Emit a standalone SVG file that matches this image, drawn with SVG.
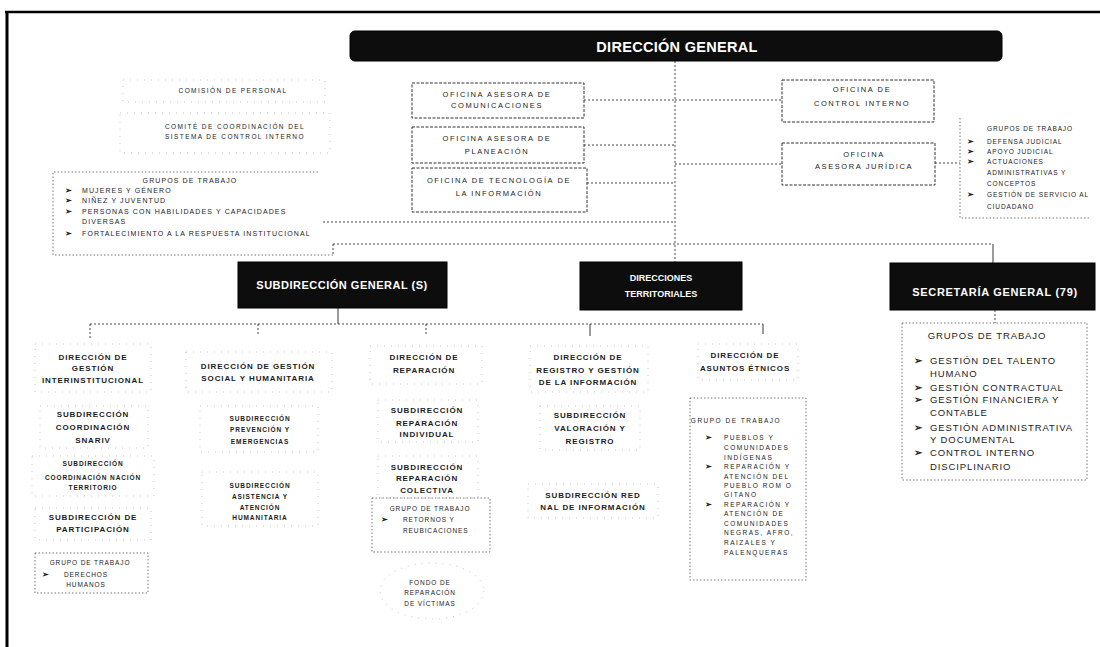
<svg xmlns="http://www.w3.org/2000/svg" width="1100" height="647" viewBox="0 0 1100 647">
<style>
  text { font-family: "Liberation Sans", Arial, sans-serif; fill: #1c1c1c; }
  .h { font-size: 8px; font-weight: bold; letter-spacing: 0.9px; text-anchor: middle; }
  .o { font-size: 7.5px; letter-spacing: 1.6px; text-anchor: middle; }
  .t { font-size: 6.5px; letter-spacing: 1.4px; text-anchor: middle; }
  .s { font-size: 6.5px; letter-spacing: 0.9px; }
  .s2 { font-size: 7px; letter-spacing: 1.1px; }
  .sm { font-size: 6.5px; letter-spacing: 0.9px; text-anchor: middle; }
  .e { font-size: 6.5px; letter-spacing: 1.5px; }
  .sg { font-size: 9.5px; letter-spacing: 0.9px; }
  .b { font-size: 8px; font-weight: bold; }
  .w { fill: #ffffff; font-weight: bold; text-anchor: middle; }
  .blk { fill: #0d0d0d; stroke: #000; stroke-width: 1; }
  .obox { fill: none; stroke: #333; stroke-width: 1; stroke-dasharray: 3 1.5; }
  .faint { fill: none; stroke: #aaa; stroke-width: 0.7; stroke-dasharray: 1 6; }
  .gbox { fill: none; stroke: #555; stroke-width: 0.8; stroke-dasharray: 1.5 2; }
  .conn line, .conn path { fill: none; stroke: #333; stroke-width: 0.9; stroke-dasharray: 2 2; }
  .conn .solid { stroke-dasharray: none; stroke: #222; }
</style>

<!-- frame -->
<g id="frame">
  <line x1="5" y1="12" x2="1100" y2="12" stroke="#000" stroke-width="2.5"/>
  <line x1="7" y1="11" x2="7" y2="647" stroke="#000" stroke-width="3"/>
</g>

<!-- connectors -->
<g id="connectors" class="conn">
  <line x1="675" y1="61" x2="675" y2="262"/>
  <line x1="584" y1="100" x2="675" y2="100"/>
  <line x1="584" y1="145" x2="675" y2="145"/>
  <line x1="587" y1="183" x2="675" y2="183"/>
  <line x1="675" y1="100" x2="782" y2="100"/>
  <line x1="675" y1="164" x2="782" y2="164"/>
  <line x1="935" y1="163" x2="960" y2="163"/>
  <line x1="323" y1="222" x2="675" y2="222"/>
  <line x1="333" y1="244" x2="993" y2="244"/>
  <line x1="333" y1="244" x2="333" y2="256"/>
  <line class="solid" x1="993" y1="244" x2="993" y2="263"/>
  <line x1="995" y1="310" x2="995" y2="323"/>
  <line class="solid" x1="338" y1="308" x2="338" y2="324"/>
  <line x1="90" y1="324" x2="763" y2="324"/>
  <line x1="90" y1="324" x2="90" y2="340"/>
  <line x1="258" y1="324" x2="258" y2="336"/>
  <line x1="426" y1="324" x2="426" y2="336"/>
  <line class="solid" x1="590" y1="324" x2="590" y2="336"/>
  <line class="solid" x1="763" y1="324" x2="763" y2="334"/>
</g>

<!-- Dirección General -->
<g id="direccion-general">
  <rect class="blk" x="350" y="31" width="652" height="30" rx="5"/>
  <text class="w" x="677" y="52" font-size="14.5" letter-spacing="0.3">DIRECCIÓN GENERAL</text>
</g>

<!-- left top -->
<g id="comision-personal">
  <rect class="faint" x="123" y="80" width="202" height="22"/>
  <text class="t" x="233" y="93">COMISIÓN DE PERSONAL</text>
</g>
<g id="comite-coordinacion">
  <rect class="faint" x="120" y="113" width="210" height="40"/>
  <text class="t" x="235" y="129">COMITÉ DE COORDINACIÓN DEL</text>
  <text class="t" x="235" y="139">SISTEMA DE CONTROL INTERNO</text>
</g>
<g id="grupos-dg">
  <path class="gbox" d="M318 172 H53 V255 H333"/>
  <text class="s2" x="190" y="183" text-anchor="middle">GRUPOS DE TRABAJO</text>
  <text class="b" x="65" y="193">➢</text><text class="s2" x="82" y="193">MUJERES Y GÉNERO</text>
  <text class="b" x="65" y="203">➢</text><text class="s2" x="82" y="203">NIÑEZ Y JUVENTUD</text>
  <text class="b" x="65" y="214">➢</text><text class="s2" x="82" y="214">PERSONAS CON HABILIDADES Y CAPACIDADES</text>
  <text class="s2" x="82" y="224">DIVERSAS</text>
  <text class="b" x="65" y="236">➢</text><text class="s2" x="82" y="236">FORTALECIMIENTO A LA RESPUESTA INSTITUCIONAL</text>
</g>

<!-- center offices -->
<g id="oficina-comunicaciones">
  <rect class="obox" x="412" y="83" width="172" height="35"/>
  <text class="o" x="497" y="97">OFICINA ASESORA DE</text>
  <text class="o" x="497" y="108">COMUNICACIONES</text>
</g>
<g id="oficina-planeacion">
  <rect class="obox" x="412" y="127" width="172" height="36"/>
  <text class="o" x="497" y="141">OFICINA ASESORA DE</text>
  <text class="o" x="497" y="154">PLANEACIÓN</text>
</g>
<g id="oficina-tecnologia">
  <rect class="obox" x="412" y="168" width="175" height="44"/>
  <text class="o" x="499" y="183">OFICINA DE TECNOLOGÍA DE</text>
  <text class="o" x="499" y="196">LA INFORMACIÓN</text>
</g>

<!-- right offices -->
<g id="oficina-control-interno">
  <rect class="obox" x="782" y="80" width="152" height="42"/>
  <text class="o" x="862" y="92">OFICINA DE</text>
  <text class="o" x="862" y="106">CONTROL INTERNO</text>
</g>
<g id="oficina-juridica">
  <rect class="obox" x="782" y="143" width="153" height="42"/>
  <text class="o" x="864" y="157">OFICINA</text>
  <text class="o" x="864" y="169">ASESORA JURÍDICA</text>
</g>
<g id="grupos-juridica">
  <path class="gbox" d="M960 118 V218 H1090"/>
  <text class="s" x="987" y="131">GRUPOS DE TRABAJO</text>
  <text class="b" x="967" y="144">➢</text><text class="s" x="987" y="144">DEFENSA JUDICIAL</text>
  <text class="b" x="967" y="154">➢</text><text class="s" x="987" y="154">APOYO JUDICIAL</text>
  <text class="b" x="967" y="164">➢</text><text class="s" x="987" y="164">ACTUACIONES</text>
  <text class="s" x="987" y="175">ADMINISTRATIVAS Y</text>
  <text class="s" x="987" y="186">CONCEPTOS</text>
  <text class="b" x="967" y="197">➢</text><text class="s" x="987" y="197">GESTIÓN DE SERVICIO AL</text>
  <text class="s" x="987" y="209">CIUDADANO</text>
</g>

<!-- second level -->
<g id="subdireccion-general">
  <rect class="blk" x="238" y="262" width="209" height="46"/>
  <text class="w" x="342" y="289" font-size="11" letter-spacing="0.5">SUBDIRECCIÓN GENERAL (S)</text>
</g>
<g id="direcciones-territoriales">
  <rect class="blk" x="580" y="262" width="162" height="48"/>
  <text class="w" x="661" y="281" font-size="9">DIRECCIONES</text>
  <text class="w" x="661" y="297" font-size="9">TERRITORIALES</text>
</g>
<g id="secretaria-general">
  <rect class="blk" x="890" y="263" width="205" height="47"/>
  <text class="w" x="995" y="296" font-size="11" letter-spacing="0.7">SECRETARÍA GENERAL (79)</text>
</g>
<g id="grupos-secretaria">
  <rect class="gbox" x="902" y="323" width="185" height="157"/>
  <text class="sg" x="987" y="339" text-anchor="middle">GRUPOS DE TRABAJO</text>
  <text class="sg" x="914" y="364" font-weight="bold">➢</text><text class="sg" x="930" y="364">GESTIÓN DEL TALENTO</text>
  <text class="sg" x="930" y="377">HUMANO</text>
  <text class="sg" x="914" y="391" font-weight="bold">➢</text><text class="sg" x="930" y="391">GESTIÓN CONTRACTUAL</text>
  <text class="sg" x="914" y="403" font-weight="bold">➢</text><text class="sg" x="930" y="403">GESTIÓN FINANCIERA Y</text>
  <text class="sg" x="930" y="416">CONTABLE</text>
  <text class="sg" x="914" y="431" font-weight="bold">➢</text><text class="sg" x="930" y="431">GESTIÓN ADMINISTRATIVA</text>
  <text class="sg" x="930" y="443">Y DOCUMENTAL</text>
  <text class="sg" x="914" y="456" font-weight="bold">➢</text><text class="sg" x="930" y="456">CONTROL INTERNO</text>
  <text class="sg" x="930" y="470">DISCIPLINARIO</text>
</g>

<!-- column 1 -->
<g id="dir-gestion-interinstitucional">
  <rect class="faint" x="35" y="344" width="116" height="48"/>
  <text class="h" x="93" y="360">DIRECCIÓN DE</text>
  <text class="h" x="93" y="371">GESTIÓN</text>
  <text class="h" x="93" y="383">INTERINSTITUCIONAL</text>
</g>
<g id="sub-coordinacion-snariv">
  <rect class="faint" x="40" y="406" width="108" height="42"/>
  <text class="h" x="93" y="417">SUBDIRECCIÓN</text>
  <text class="h" x="93" y="430">COORDINACIÓN</text>
  <text class="h" x="93" y="443">SNARIV</text>
</g>
<g id="sub-nacion-territorio">
  <rect class="faint" x="32" y="456" width="122" height="40"/>
  <text class="sm" x="93" y="466" font-weight="bold">SUBDIRECCIÓN</text>
  <text class="sm" x="93" y="480" font-weight="bold">COORDINACIÓN NACIÓN</text>
  <text class="sm" x="93" y="490" font-weight="bold">TERRITORIO</text>
</g>
<g id="sub-participacion">
  <rect class="faint" x="35" y="508" width="116" height="32"/>
  <text class="h" x="93" y="520">SUBDIRECCIÓN DE</text>
  <text class="h" x="93" y="532">PARTICIPACIÓN</text>
</g>
<g id="grupo-derechos-humanos">
  <rect class="gbox" x="35" y="553" width="113" height="40"/>
  <text class="sm" x="90" y="565">GRUPO DE TRABAJO</text>
  <text class="b" x="42" y="577">➢</text>
  <text class="sm" x="86" y="577">DERECHOS</text>
  <text class="sm" x="86" y="587">HUMANOS</text>
</g>

<!-- column 2 -->
<g id="dir-gestion-social">
  <rect class="faint" x="186" y="352" width="146" height="40"/>
  <text class="h" x="258" y="369">DIRECCIÓN DE GESTIÓN</text>
  <text class="h" x="258" y="381">SOCIAL Y HUMANITARIA</text>
</g>
<g id="sub-prevencion">
  <rect class="faint" x="200" y="406" width="118" height="46"/>
  <text class="sm" x="260" y="421" font-weight="bold">SUBDIRECCIÓN</text>
  <text class="sm" x="260" y="432" font-weight="bold">PREVENCIÓN Y</text>
  <text class="sm" x="260" y="444" font-weight="bold">EMERGENCIAS</text>
</g>
<g id="sub-asistencia">
  <rect class="faint" x="202" y="472" width="116" height="54"/>
  <text class="sm" x="260" y="488" font-weight="bold">SUBDIRECCIÓN</text>
  <text class="sm" x="260" y="499" font-weight="bold">ASISTENCIA Y</text>
  <text class="sm" x="260" y="510" font-weight="bold">ATENCIÓN</text>
  <text class="sm" x="260" y="520" font-weight="bold">HUMANITARIA</text>
</g>

<!-- column 3 -->
<g id="dir-reparacion">
  <rect class="faint" x="370" y="346" width="112" height="38"/>
  <text class="h" x="424" y="360">DIRECCIÓN DE</text>
  <text class="h" x="424" y="373">REPARACIÓN</text>
</g>
<g id="sub-reparacion-individual">
  <rect class="faint" x="378" y="400" width="100" height="42"/>
  <text class="h" x="427" y="413">SUBDIRECCIÓN</text>
  <text class="h" x="427" y="426">REPARACIÓN</text>
  <text class="h" x="427" y="437">INDIVIDUAL</text>
</g>
<g id="sub-reparacion-colectiva">
  <rect class="faint" x="378" y="456" width="100" height="42"/>
  <text class="h" x="427" y="470">SUBDIRECCIÓN</text>
  <text class="h" x="427" y="481">REPARACIÓN</text>
  <text class="h" x="427" y="493">COLECTIVA</text>
</g>
<g id="grupo-retornos">
  <rect class="gbox" x="372" y="498" width="118" height="54"/>
  <text class="sm" x="430" y="511">GRUPO DE TRABAJO</text>
  <text class="b" x="381" y="522">➢</text>
  <text class="s" x="403" y="522">RETORNOS Y</text>
  <text class="s" x="403" y="533">REUBICACIONES</text>
</g>
<g id="fondo-reparacion">
  <ellipse class="faint" cx="432" cy="591" rx="52" ry="28"/>
  <text class="sm" x="430" y="585">FONDO DE</text>
  <text class="sm" x="430" y="595">REPARACIÓN</text>
  <text class="sm" x="430" y="606">DE VÍCTIMAS</text>
</g>

<!-- column 4 -->
<g id="dir-registro">
  <rect class="faint" x="530" y="346" width="118" height="46"/>
  <text class="h" x="588" y="360">DIRECCIÓN DE</text>
  <text class="h" x="588" y="373">REGISTRO Y GESTIÓN</text>
  <text class="h" x="588" y="385">DE LA INFORMACIÓN</text>
</g>
<g id="sub-valoracion">
  <rect class="faint" x="540" y="406" width="100" height="44"/>
  <text class="h" x="590" y="418">SUBDIRECCIÓN</text>
  <text class="h" x="590" y="431">VALORACIÓN Y</text>
  <text class="h" x="590" y="444">REGISTRO</text>
</g>
<g id="sub-red-nacional">
  <rect class="faint" x="528" y="484" width="130" height="34"/>
  <text class="h" x="593" y="498">SUBDIRECCIÓN RED</text>
  <text class="h" x="593" y="510">NAL DE INFORMACIÓN</text>
</g>

<!-- column 5 -->
<g id="dir-asuntos-etnicos">
  <rect class="faint" x="698" y="344" width="100" height="36"/>
  <text class="h" x="745" y="358">DIRECCIÓN DE</text>
  <text class="h" x="745" y="371">ASUNTOS ÉTNICOS</text>
</g>
<g id="grupo-etnicos">
  <rect class="gbox" x="690" y="398" width="116" height="182"/>
  <text class="e" x="736" y="423" text-anchor="middle" letter-spacing="0.7">GRUPO DE TRABAJO</text>
  <text class="b" x="705" y="440">➢</text><text class="e" x="724" y="440">PUEBLOS Y</text>
  <text class="e" x="724" y="450">COMUNIDADES</text>
  <text class="e" x="724" y="460">INDÍGENAS</text>
  <text class="b" x="705" y="469">➢</text><text class="e" x="724" y="469">REPARACIÓN Y</text>
  <text class="e" x="724" y="479">ATENCIÓN DEL</text>
  <text class="e" x="724" y="488">PUEBLO ROM O</text>
  <text class="e" x="724" y="497">GITANO</text>
  <text class="b" x="705" y="507">➢</text><text class="e" x="724" y="507">REPARACIÓN Y</text>
  <text class="e" x="724" y="516">ATENCIÓN DE</text>
  <text class="e" x="724" y="526">COMUNIDADES</text>
  <text class="e" x="724" y="535">NEGRAS, AFRO,</text>
  <text class="e" x="724" y="545">RAIZALES Y</text>
  <text class="e" x="724" y="555">PALENQUERAS</text>
</g>
</svg>
